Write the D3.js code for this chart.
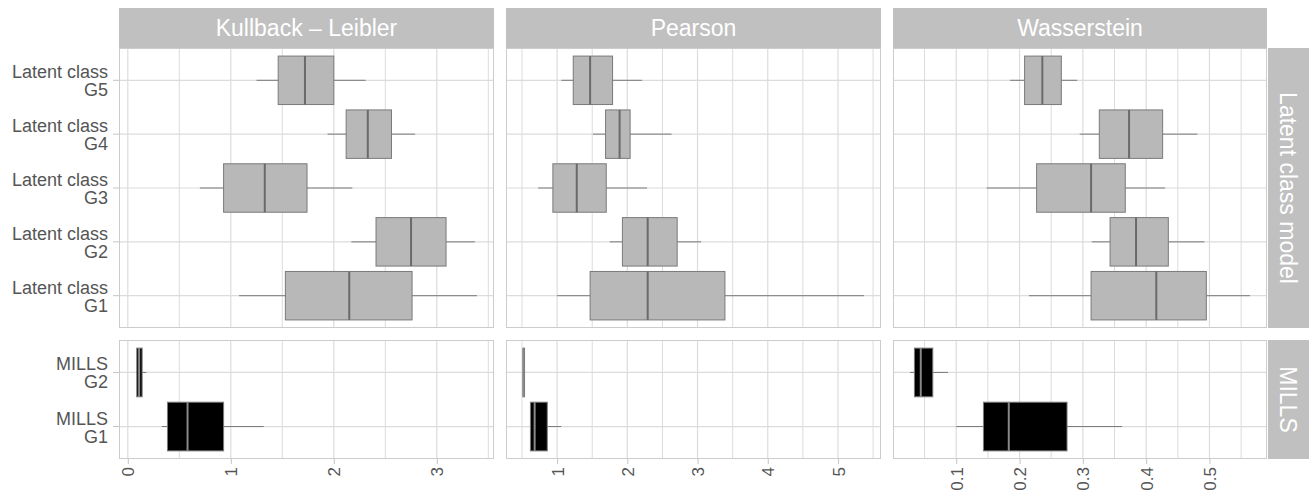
<!DOCTYPE html>
<html><head><meta charset="utf-8">
<script src="https://cdn.jsdelivr.net/npm/d3@7"></script>
<style>body{margin:0;background:#fff;} text{font-family:"Liberation Sans",Arial,Helvetica,sans-serif;}</style>
</head><body>
<svg id="chart" width="1314" height="500"></svg>
<script>
// ---- data ----
const metrics = ["Kullback – Leibler", "Pearson", "Wasserstein"];
const rowLabels = ["Latent class model", "MILLS"];
const latentGroups = ["G1", "G2", "G3", "G4", "G5"];
const millsGroups = ["G1", "G2"];
// stats: [whiskerLow, Q1, median, Q3, whiskerHigh], order G1..G5
const klLatent = [[1.08,1.53,2.15,2.76,3.39],[2.17,2.41,2.75,3.09,3.37],[0.70,0.93,1.33,1.74,2.18],[1.94,2.12,2.33,2.56,2.79],[1.25,1.46,1.72,2.00,2.31]];
const klMills = [[0.33,0.385,0.58,0.93,1.32],[0.08,0.087,0.11,0.139,0.18]];
const pearsonLatent = [[1.00,1.47,2.29,3.39,5.37],[1.75,1.93,2.29,2.71,3.05],[0.73,0.94,1.28,1.70,2.28],[1.51,1.69,1.89,2.04,2.63],[1.06,1.23,1.47,1.79,2.21]];
const pearsonMills = [[0.62,0.62,0.68,0.86,1.06],[0.52,0.515,0.52,0.53,0.53]];
const wassLatent = [[0.215,0.313,0.416,0.495,0.564],[0.314,0.343,0.384,0.435,0.492],[0.148,0.227,0.313,0.367,0.430],[0.295,0.326,0.373,0.426,0.481],[0.185,0.208,0.236,0.266,0.291]];
const wassMills = [[0.10,0.143,0.183,0.275,0.362],[0.027,0.034,0.044,0.063,0.087]];
const klTicks = [0, 1, 2, 3];
const pearsonTicks = [1, 2, 3, 4, 5];
const wassTicks = [0.1, 0.2, 0.3, 0.4, 0.5];

const panelsData = [
  {latent: klLatent, mills: klMills, ticks: klTicks},
  {latent: pearsonLatent, mills: pearsonMills, ticks: pearsonTicks},
  {latent: wassLatent, mills: wassMills, ticks: wassTicks}
];

// ---- layout ----
const svg = d3.select("#chart");
const colX = [[119, 494], [506, 881], [893, 1267]];
const rowY = [[48, 328], [340, 459]];
const stripTop = [8, 48];
const stripRight = [1268, 1309];
const gridCol = "#dcdcdc", borderCol = "#cccccc", stripCol = "#c0c0c0", textCol = "#555555";
const boxStroke = "#7a7a7a";

const fmt = v => (Math.abs(v - Math.round(v)) < 1e-9 ? d3.format("d")(v) : d3.format(".1f")(v));

panelsData.forEach((p, ci) => {
  const all = p.latent.concat(p.mills).flat();
  const lo = d3.min(all), hi = d3.max(all), pad = (hi - lo) * 0.05;
  const x = d3.scaleLinear().domain([lo - pad, hi + pad]).range(colX[ci]);
  const step = p.ticks[1] - p.ticks[0];
  const minors = [];
  for (let t = p.ticks[0] - step / 2; t <= p.ticks[p.ticks.length - 1] + step; t += step) {
    if (t >= x.domain()[0] && t <= x.domain()[1]) minors.push(t);
  }
  const majors = p.ticks.filter(t => t >= x.domain()[0] && t <= x.domain()[1]);

  // strip top
  svg.append("rect").attr("x", colX[ci][0]).attr("y", stripTop[0])
    .attr("width", colX[ci][1] - colX[ci][0]).attr("height", stripTop[1] - stripTop[0]).attr("fill", stripCol);
  svg.append("text").attr("x", (colX[ci][0] + colX[ci][1]) / 2).attr("y", (stripTop[0] + stripTop[1]) / 2)
    .attr("dy", "0.36em").attr("text-anchor", "middle").attr("fill", "#fff").attr("font-size", 23)
    .text(metrics[ci]);

  [[p.latent, latentGroups, "Latent class", "#b8b8b8", "#6a6a6a"], [p.mills, millsGroups, "MILLS", "#000", "#888"]].forEach((r, ri) => {
    const [stats, groups, prefix, fill, medCol] = r;
    const y = d3.scaleLinear().domain([0.4, groups.length + 0.6]).range([rowY[ri][1], rowY[ri][0]]);
    const g = svg.append("g");
    g.append("rect").attr("x", colX[ci][0]).attr("y", rowY[ri][0])
      .attr("width", colX[ci][1] - colX[ci][0]).attr("height", rowY[ri][1] - rowY[ri][0]).attr("fill", "#fff");
    // grid
    g.selectAll(".minor").data(minors).join("line")
      .attr("x1", d => x(d)).attr("x2", d => x(d)).attr("y1", rowY[ri][0]).attr("y2", rowY[ri][1])
      .attr("stroke", gridCol).attr("stroke-width", 1);
    g.selectAll(".major").data(majors).join("line")
      .attr("x1", d => x(d)).attr("x2", d => x(d)).attr("y1", rowY[ri][0]).attr("y2", rowY[ri][1])
      .attr("stroke", gridCol).attr("stroke-width", 1.2);
    g.selectAll(".hgrid").data(groups).join("line")
      .attr("x1", colX[ci][0]).attr("x2", colX[ci][1]).attr("y1", (d, i) => y(i + 1)).attr("y2", (d, i) => y(i + 1))
      .attr("stroke", gridCol).attr("stroke-width", 1.2);
    // boxes
    const hw = 0.45;
    stats.forEach((s, i) => {
      const cy = y(i + 1);
      g.append("line").attr("x1", x(s[0])).attr("x2", x(s[1])).attr("y1", cy).attr("y2", cy).attr("stroke", boxStroke).attr("stroke-width", 1);
      g.append("line").attr("x1", x(s[3])).attr("x2", x(s[4])).attr("y1", cy).attr("y2", cy).attr("stroke", boxStroke).attr("stroke-width", 1);
      g.append("rect").attr("x", x(s[1])).attr("y", y(i + 1 + hw))
        .attr("width", Math.max(x(s[3]) - x(s[1]), 1.5)).attr("height", y(i + 1 - hw) - y(i + 1 + hw))
        .attr("fill", fill).attr("stroke", boxStroke).attr("stroke-width", 1);
      g.append("line").attr("x1", x(s[2])).attr("x2", x(s[2])).attr("y1", y(i + 1 + hw)).attr("y2", y(i + 1 - hw))
        .attr("stroke", medCol).attr("stroke-width", 2);
    });
    // border
    g.append("rect").attr("x", colX[ci][0] + 0.5).attr("y", rowY[ri][0] + 0.5)
      .attr("width", colX[ci][1] - colX[ci][0] - 1).attr("height", rowY[ri][1] - rowY[ri][0] - 1)
      .attr("fill", "none").attr("stroke", borderCol).attr("stroke-width", 1);

    // y axis labels (first column only)
    if (ci === 0) {
      groups.forEach((gr, i) => {
        const cy = y(i + 1);
        svg.append("line").attr("x1", colX[0][0] - 6).attr("x2", colX[0][0]).attr("y1", cy).attr("y2", cy)
          .attr("stroke", "#c4c4c4").attr("stroke-width", 1);
        const t = svg.append("text").attr("x", 108).attr("text-anchor", "end").attr("fill", textCol).attr("font-size", 18);
        t.append("tspan").attr("x", 108).attr("y", cy - 2).text(prefix);
        t.append("tspan").attr("x", 108).attr("y", cy + 16).text(gr);
      });
    }
    // right strip (last column)
    if (ci === 2) {
      svg.append("rect").attr("x", stripRight[0]).attr("y", rowY[ri][0])
        .attr("width", stripRight[1] - stripRight[0]).attr("height", rowY[ri][1] - rowY[ri][0]).attr("fill", stripCol);
      const cx = (stripRight[0] + stripRight[1]) / 2, cyy = (rowY[ri][0] + rowY[ri][1]) / 2;
      svg.append("text").attr("transform", `translate(${cx},${cyy}) rotate(90)`)
        .attr("dy", "0.36em").attr("text-anchor", "middle").attr("fill", "#fff").attr("font-size", 23)
        .text(rowLabels[ri]);
    }
  });

  // x axis
  const ax = svg.append("g").attr("transform", `translate(0,${rowY[1][1]})`)
    .call(d3.axisBottom(x).tickValues(majors).tickSize(5).tickFormat(fmt));
  ax.select(".domain").remove();
  ax.selectAll(".tick line").attr("stroke", "#c4c4c4");
  ax.selectAll(".tick text").attr("fill", textCol).attr("font-size", 17)
    .attr("transform", "rotate(-90)").attr("text-anchor", "end")
    .attr("x", -8).attr("y", 0).attr("dy", "0.36em");
});
</script>
</body></html>
